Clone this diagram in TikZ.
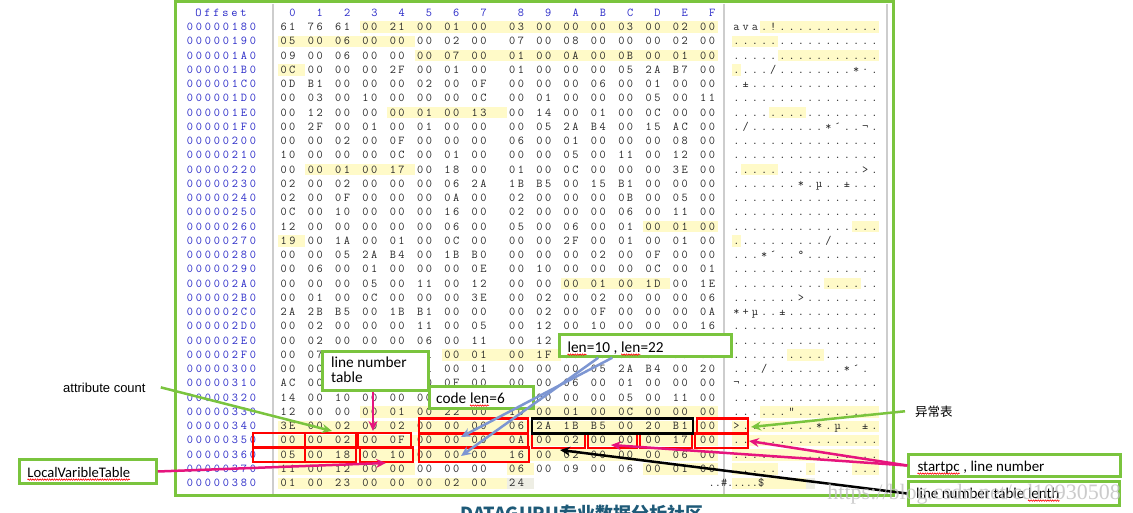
\documentclass[tikz,border=0pt]{standalone}
\usepackage{fontspec}
\setsansfont{Carlito}
\newfontfamily\arialf{Liberation Sans}
\newfontfamily\wmfont{Liberation Serif}
\newfontfamily\cjk{Noto Sans CJK SC}
\usetikzlibrary{arrows.meta,decorations.pathmorphing,fit}
\definecolor{gborder}{RGB}{122,196,62}
\definecolor{hl}{RGB}{255,250,200}
\definecolor{hlgray}{RGB}{238,238,228}
\definecolor{offblue}{RGB}{40,40,200}
\definecolor{hexc}{RGB}{40,40,40}
\definecolor{mag}{RGB}{230,20,125}
\definecolor{arblue}{RGB}{125,150,210}
\definecolor{dgteal}{RGB}{30,90,120}
\definecolor{sepgray}{RGB}{205,205,205}
\makeatletter
\newcommand\charrow[5]{%
  \def\crx{#1}%
  \expandafter\@tfor\expandafter\crch\expandafter:\expandafter=#4\do{%
    \node[#5] at (\crx,#3) {\crch};%
    \pgfmathsetmacro\crx{\crx+#2}%
  }%
}
\makeatother
\newcommand\hexpair[2]{#1\kern2.5pt#2}
\newcommand\sqg[1]{\tikz[baseline=(sqw.base)]{\node[inner sep=0pt,outer sep=0pt,anchor=base](sqw){#1};\draw[red,line width=0.6pt,decorate,decoration={zigzag,segment length=2.4pt,amplitude=0.7pt}]([yshift=-2.6pt]sqw.base west)--([yshift=-2.6pt]sqw.base east);}}
\tikzset{
  hexs/.style={anchor=base,inner sep=0pt,text=hexc,font=\ttfamily\fontsize{12}{12}\selectfont},
  offs/.style={anchor=base,inner sep=0pt,text=offblue,font=\ttfamily\fontsize{12}{12}\selectfont},
  callout/.style={draw=gborder,line width=2.5pt,fill=white,inner sep=0pt},
  ctext/.style={inner sep=0pt,text=black,font=\sffamily\fontsize{15.3}{14.8}\selectfont},
  hlcell/.style={fill=hl},
  rbox/.style={draw=red,line width=2.5pt},
  bbox/.style={draw=black,line width=2.5pt},
  sepline/.style={draw=sepgray,line width=1.2pt},
  marr/.style={draw=mag,line width=2.5pt,-{Stealth[length=10pt,width=9pt]}},
  garr/.style={draw=gborder,line width=2.5pt,-{Stealth[length=10pt,width=9pt]}},
  barr/.style={draw=arblue,line width=2.5pt,-{Stealth[length=10pt,width=9pt]}},
  karr/.style={draw=black,line width=2.5pt,-{Stealth[length=10pt,width=9pt]}},
}
\begin{document}
\begin{tikzpicture}[x=1pt,y=-1pt]
\useasboundingbox (0,0) rectangle (1133,513);
\fill[white] (0,0) rectangle (1133,513);
% separators
\draw[sepline] (273,4) -- (273,494);
\draw[sepline] (724,4) -- (724,494);
\draw[sepline] (887,4) -- (887,494);
% highlights
\foreach \r/\s/\e in {0/3/15,1/0/4,2/5/15,3/0/0,6/4/7,10/1/4,14/13/15,15/0/0,18/10/13,23/6/9,27/3/15,28/0/15,29/0/15,30/0/15,31/0/4,31/8/8,31/13/15,32/0/7}{
  \pgfmathsetmacro\yc{27+14.25*\r}
  \pgfmathsetmacro\xa{(\s<8 ? 288+27.3*\s : 516.5+27.3*(\s-8)) - 10}
  \pgfmathsetmacro\xb{\e==15 ? 717.5 : (\e==7 ? 506.5 : (\e<7 ? 288+27.3*(\e+1)-10 : 516.5+27.3*(\e-7)-10))}
  \fill[hlcell] (\xa,\yc-5.5) rectangle (\xb,\yc+6);
  \fill[hlcell] (736.5+9.2*\s-4.6,\yc-5.5) rectangle (736.5+9.2*\e+4.6,\yc+6);
}
\fill[hlgray] (506.5,477.5) rectangle (533.8,489);
\fill[hlgray] (736.5+73.6-4.6,477.5) rectangle (736.5+73.6+4.6,489);
% header
\def\hdrtxt{Offset}
\charrow{198.5}{9}{16.7}{\hdrtxt}{offs}
\foreach \h [count=\k from 0] in {0,1,2,3,4,5,6,7,8,9,A,B,C,D,E,F}{
  \pgfmathsetmacro\cx{(\k<8 ? 288+27.3*\k : 516.5+27.3*(\k-8))+4.5}
  \node[offs] (hd\k) at (\cx,16.7) {\h};
}
% rows
\foreach \off/\hx/\asc [count=\r from 0] in {
00000180/{61,76,61,00,21,00,01,00,03,00,00,00,03,00,02,00}/{ava.!...........},
00000190/{05,00,06,00,00,00,02,00,07,00,08,00,00,00,02,00}/{................},
000001A0/{09,00,06,00,00,00,07,00,01,00,0A,00,0B,00,01,00}/{................},
000001B0/{0C,00,00,00,2F,00,01,00,01,00,00,00,05,2A,B7,00}/{..../........*·.},
000001C0/{0D,B1,00,00,00,02,00,0F,00,00,00,06,00,01,00,00}/{.±..............},
000001D0/{00,03,00,10,00,00,00,0C,00,01,00,00,00,05,00,11}/{................},
000001E0/{00,12,00,00,00,01,00,13,00,14,00,01,00,0C,00,00}/{................},
000001F0/{00,2F,00,01,00,01,00,00,00,05,2A,B4,00,15,AC,00}/{./........*´..¬.},
00000200/{00,00,02,00,0F,00,00,00,06,00,01,00,00,00,08,00}/{................},
00000210/{10,00,00,00,0C,00,01,00,00,00,05,00,11,00,12,00}/{................},
00000220/{00,00,01,00,17,00,18,00,01,00,0C,00,00,00,3E,00}/{..............>.},
00000230/{02,00,02,00,00,00,06,2A,1B,B5,00,15,B1,00,00,00}/{.......*.µ..±...},
00000240/{02,00,0F,00,00,00,0A,00,02,00,00,00,0B,00,05,00}/{................},
00000250/{0C,00,10,00,00,00,16,00,02,00,00,00,06,00,11,00}/{................},
00000260/{12,00,00,00,00,00,06,00,05,00,06,00,01,00,01,00}/{................},
00000270/{19,00,1A,00,01,00,0C,00,00,00,2F,00,01,00,01,00}/{........../.....},
00000280/{00,00,05,2A,B4,00,1B,B0,00,00,00,02,00,0F,00,00}/{...*´..°........},
00000290/{00,06,00,01,00,00,00,0E,00,10,00,00,00,0C,00,01}/{................},
000002A0/{00,00,00,05,00,11,00,12,00,00,00,01,00,1D,00,1E}/{................},
000002B0/{00,01,00,0C,00,00,00,3E,00,02,00,02,00,00,00,06}/{.......>........},
000002C0/{2A,2B,B5,00,1B,B1,00,00,00,02,00,0F,00,00,00,0A}/{*+µ..±..........},
000002D0/{00,02,00,00,00,11,00,05,00,12,00,10,00,00,00,16}/{................},
000002E0/{00,02,00,00,00,06,00,11,00,12,00,00,00,01,00,00}/{................},
000002F0/{00,07,00,00,00,01,00,01,00,1F,00,00,00,01,00,00}/{................},
00000300/{00,00,00,2F,00,01,00,01,00,00,00,05,2A,B4,00,20}/{.../........*´.~},
00000310/{AC,00,00,00,00,00,0F,00,00,00,06,00,01,00,00,00}/{¬...............},
00000320/{14,00,10,00,00,00,00,00,00,00,00,00,05,00,11,00}/{................},
00000330/{12,00,00,00,01,00,22,00,10,00,01,00,0C,00,00,00}/{......\textquotedbl.........},
00000340/{3E,00,02,00,02,00,00,00,06,2A,1B,B5,00,20,B1,00}/{>........*.µ.~±.},
00000350/{00,00,02,00,0F,00,00,00,0A,00,02,00,00,00,17,00}/{................},
00000360/{05,00,18,00,10,00,00,00,16,00,02,00,00,00,06,00}/{................},
00000370/{11,00,12,00,00,00,00,00,06,00,09,00,06,00,01,00}/{................},
00000380/{01,00,23,00,00,00,02,00,24}/{..\#.....\$}
}{
  \pgfmathsetmacro\yc{27+14.25*\r}
  \pgfmathsetmacro\yb{\yc+3.7}
  \charrow{190}{9}{\yb}{\off}{offs}
  \foreach \b [count=\k from 0] in \hx {
    \pgfmathsetmacro\cx{\k<8 ? 288+27.3*\k : 516.5+27.3*(\k-8)}
    \node[hexs] at (\cx,\yb) {\expandafter\hexpair\b};
  }
  \charrow{736.5}{9.2}{\yb}{\asc}{hexs}
}
% red / black boxes
\foreach \r/\xa/\xb in {28/419/528,28/697/748,29/253/305,29/305/356,29/358/411,29/419/528,29/532/585,29/588/637,29/640/692,29/695/748,30/253/305,30/305/356,30/360/413,30/419/529}{
  \pgfmathsetmacro\yc{27+14.25*\r}
  \draw[rbox] (\xa,\yc-7.5) rectangle (\xb,\yc+7.5);
}
\draw[bbox] (532,418.5) rectangle (693,433.5);
% table frame
\draw[draw=gborder,line width=3pt] (175.5,2) rectangle (893.5,495.5);
% callouts
\node[callout,fit={(322.5,351.5) (428.5,390.5)}] (lnt) {};
\node[ctext,anchor=north west,align=left] (lntT) at (331,356.5) {line number\\table};
\node[callout,fit={(429.5,386.5) (533.5,408.5)}] (cl) {};
\node[ctext,anchor=base west] (clT) at (436,403) {code \sqg{len}=6};
\node[callout,fit={(559.5,334.5) (731.5,356.5)}] (lenb) {};
\node[ctext,anchor=base west] (lenT) at (567,352) {\sqg{len}=10 , \sqg{len}=22};
\node[callout,fit={(19.5,459.5) (156.5,483.5)}] (lvt) {};
\node[ctext,anchor=base west,font=\sffamily\fontsize{14.6}{14.6}\selectfont] (lvtT) at (27,477) {\sqg{LocalVaribleTable}};
\node[callout,fit={(908.5,454.5) (1120.5,476.5)}] (sp) {};
\node[ctext,anchor=base west,font=\sffamily\fontsize{15}{15}\selectfont] (spT) at (917,471) {\sqg{startpc} , line number};
\node[callout,fit={(908.5,481.5) (1119.5,505.5)}] (ln) {};
\node[ctext,anchor=base west,font=\sffamily\fontsize{15}{15}\selectfont] (lnT) at (916,498) {line number table \sqg{lenth}};
\node[inner sep=0pt,anchor=base west,font=\arialf\fontsize{13}{13}\selectfont] (attr) at (63,392) {attribute count};
\node[inner sep=0pt,anchor=base west,font=\cjk\fontsize{12.5}{12.5}\selectfont] (yc) at (915,416) {异常表};
% arrow tips
\coordinate (tAttr) at (332,431);
\coordinate (tLnt) at (373,431);
\coordinate (tLvt) at (386,463);
\coordinate (tB1) at (461,437);
\coordinate (tB2) at (461,456);
\coordinate (tYc) at (751,427);
\coordinate (tSp1) at (749,441);
\coordinate (tSp2) at (611,445);
\coordinate (tLn) at (560,450);
% arrows
\draw[garr] ([xshift=15pt]attr.east) -- (tAttr);
\draw[marr] (lnt.south -| tLnt) -- (tLnt);
\draw[marr] (lvt.east) -- (tLvt);
\draw[barr] ([xshift=54pt]lenb.south west) -- (tB1);
\draw[barr] ([xshift=40pt]lenb.south west) -- (tB2);
\draw[garr] ([xshift=-10pt]yc.west) -- (tYc);
\draw[marr] (sp.west) -- (tSp1);
\draw[marr] (sp.west) -- (tSp2);
\draw[karr] (ln.west) -- (tLn);
% watermark and footer
\node[anchor=base east,inner sep=0pt,font=\wmfont\fontsize{22}{22}\selectfont,text=black!25,opacity=0.8] (wm) at (1121,499) {https://blog.csdn.net/cd10930508};
\node[anchor=base west,inner sep=0pt,text=dgteal,font=\cjk\bfseries\fontsize{18}{18}\selectfont] (dg) at (460,520) {DATAGURU专业数据分析社区};
\end{tikzpicture}
\end{document}
